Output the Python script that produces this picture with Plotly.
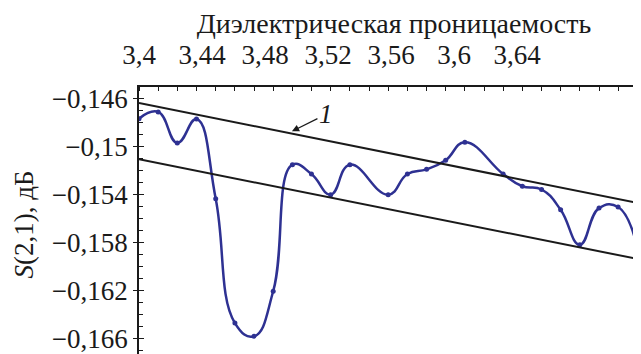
import plotly.graph_objects as go

# permittivity values (as placed on the printed axis) and S(2,1) in dB
eps = [3.4000, 3.4122, 3.4243, 3.4365, 3.4487, 3.4609, 3.4730, 3.4852, 3.4974,
       3.5095, 3.5217, 3.5339, 3.5582, 3.5704, 3.5826, 3.5947, 3.6069, 3.6312,
       3.6434, 3.6556, 3.6677, 3.6799, 3.6921, 3.7042, 3.7164]
s21 = [-0.14764, -0.14708, -0.14967, -0.14767, -0.15432, -0.16469, -0.16580, -0.16204,
       -0.15148, -0.15226, -0.15398, -0.15148, -0.15398, -0.15226, -0.15187, -0.15111,
       -0.14961, -0.15226, -0.15328, -0.15355, -0.15524, -0.15816, -0.15510, -0.15501,
       -0.15837]

# bounding straight lines
line_x = [3.40, 3.7240]
upper_y = [-0.14633, -0.15487]
lower_y = [-0.15103, -0.15954]

x_tickvals = [3.40, 3.44, 3.48, 3.52, 3.56, 3.60, 3.64]
x_ticktext = ["3,4", "3,44", "3,48", "3,52", "3,56", "3,6", "3,64"]
y_tickvals = [-0.146, -0.150, -0.154, -0.158, -0.162, -0.166]
y_ticktext = ["\u22120,146", "\u22120,15", "\u22120,154", "\u22120,158", "\u22120,162", "\u22120,166"]

FONT = "Liberation Serif"
BLUE = "#2e3192"
INK = "#1a1a1a"

fig = go.Figure()
fig.add_trace(go.Scatter(x=line_x, y=upper_y, mode="lines", yaxis="y2",
                         line=dict(color=INK, width=2), showlegend=False, hoverinfo="skip"))
fig.add_trace(go.Scatter(x=line_x, y=lower_y, mode="lines", yaxis="y2",
                         line=dict(color=INK, width=2), showlegend=False, hoverinfo="skip"))
fig.add_trace(go.Scatter(x=eps, y=s21, mode="lines+markers",
                         line=dict(color=BLUE, width=2.5, shape="spline", smoothing=1.3),
                         marker=dict(color=BLUE, size=5), showlegend=False))

yr = [-0.16794, -0.145]
fig.update_layout(
    width=641, height=354,
    margin=dict(l=131, r=0, t=79, b=0),
    paper_bgcolor="white", plot_bgcolor="white",
    font=dict(family=FONT, size=27, color=INK),
    xaxis=dict(side="top", range=[3.4, 3.72381], showgrid=False, zeroline=False,
               showline=True, linecolor=INK, linewidth=1.5,
               tickvals=x_tickvals, ticktext=x_ticktext, ticks="",
               tickfont=dict(family=FONT, size=27),
               minor=dict(dtick=0.01217, tick0=3.4, ticks="inside", ticklen=4,
                          tickcolor=INK, tickwidth=1.2),
               ticklabelstandoff=10,
               title=dict(text="Диэлектрическая проницаемость", standoff=3,
                          font=dict(family=FONT, size=28))),
    yaxis=dict(range=yr, showgrid=False, zeroline=False,
               showline=True, linecolor=INK, linewidth=1.5,
               tickvals=y_tickvals, ticktext=y_ticktext, ticks="inside", ticklen=5,
               tickwidth=1.2, tickcolor=INK,
               tickfont=dict(family=FONT, size=27),
               minor=dict(dtick=0.001, tick0=-0.146, ticks="inside", ticklen=4,
                          tickcolor=INK, tickwidth=1),
               ticklabelstandoff=4,
               title=dict(text="<i>S</i>(2,1), дБ", standoff=10,
                          font=dict(family=FONT, size=27))),
    yaxis2=dict(range=yr, overlaying="y", side="left", showgrid=False, zeroline=False,
                showline=False, showticklabels=False, tickvals=y_tickvals,
                ticks="outside", ticklen=5, tickwidth=1.2, tickcolor=INK),
    annotations=[dict(x=3.4971, y=-0.1487, xref="x", yref="y", text="<i>1</i>",
                      showarrow=True, ax=34, ay=-17, arrowhead=2, arrowsize=1.2,
                      arrowwidth=1.2, arrowcolor=INK,
                      font=dict(family=FONT, size=27, color=INK))],
)

fig.write_html("out.html")
